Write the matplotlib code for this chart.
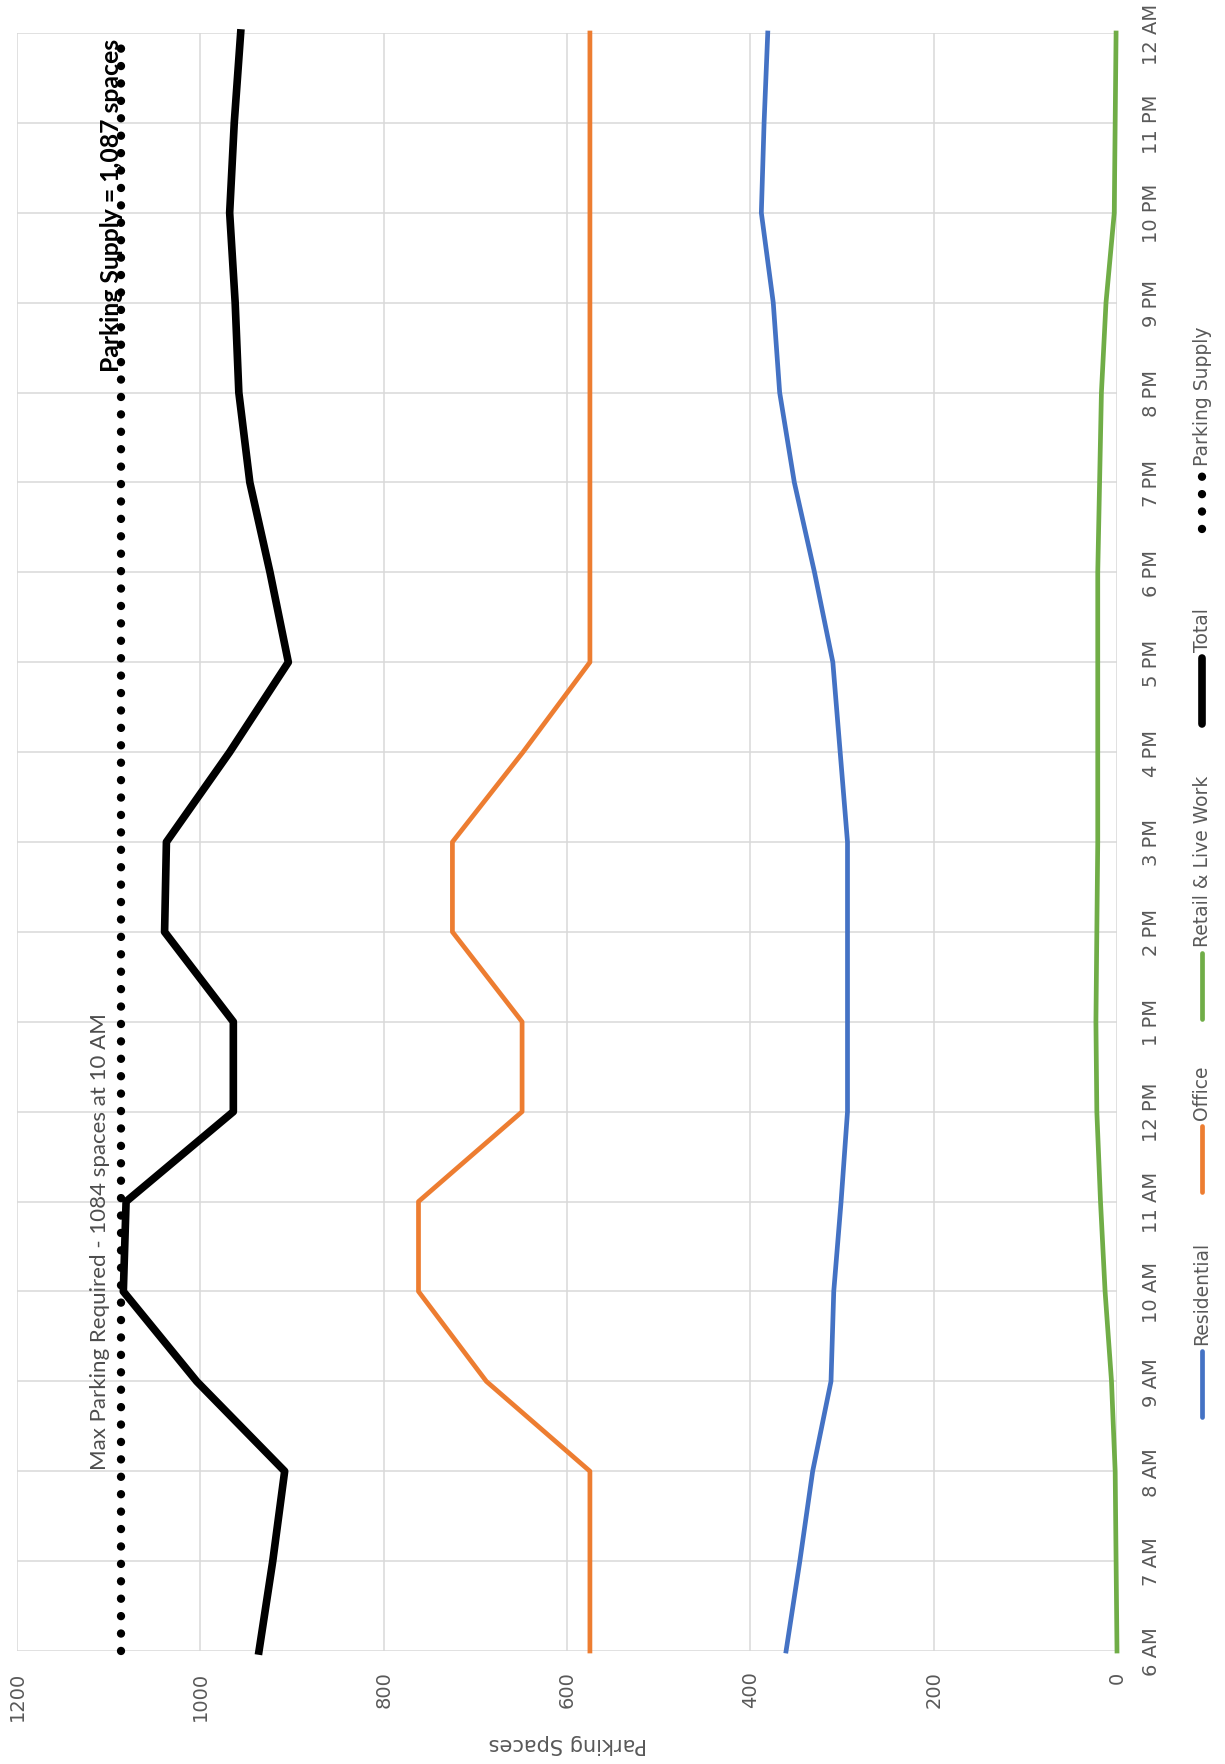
import matplotlib
matplotlib.use("Agg")
import matplotlib.pyplot as plt
from matplotlib.lines import Line2D

# Hourly parking demand by land use, 6 AM through midnight
hours = ["6 AM", "7 AM", "8 AM", "9 AM", "10 AM", "11 AM", "12 PM", "1 PM", "2 PM",
         "3 PM", "4 PM", "5 PM", "6 PM", "7 PM", "8 PM", "9 PM", "10 PM", "11 PM", "12 AM"]
residential = [361, 346, 332, 312, 309, 301, 294, 294, 294, 294, 302, 310, 330, 352, 368, 375, 388, 385, 381]
office = [575, 575, 575, 688, 762, 762, 649, 649, 725, 725, 648, 575, 575, 575, 575, 575, 575, 575, 575]
retail = [0, 1, 2, 6, 13, 18, 22, 23, 22, 21, 21, 21, 21, 19, 17, 12, 3, 2, 1]
total = [936, 921, 908, 1004, 1084, 1081, 964, 964, 1039, 1037, 968, 904, 924, 946, 958, 962, 968, 963, 956]
supply = 1087
value_ticks = [0, 200, 400, 600, 800, 1000, 1200]

W, H = 1225, 1765
GRAY = "#595959"
GRID = "#d9d9d9"
colors = {"Residential": "#4472C4", "Office": "#ED7D31",
          "Retail & Live Work": "#70AD47", "Total": "#000000"}

fig = plt.figure(figsize=(W / 100, H / 100), dpi=100)


def fx(px):
    return px / W


def fy(py):
    return 1 - py / H


# plot area turned on its side: time runs upward, spaces run right-to-left
ax = fig.add_axes([fx(17), fy(1652), fx(1117) - fx(17), fy(34) - fy(1652)])
t = list(range(len(hours)))

ax.plot(residential, t, color=colors["Residential"], lw=3.4, clip_on=False, zorder=3)
ax.plot(office, t, color=colors["Office"], lw=3.4, clip_on=False, zorder=3)
ax.plot(retail, t, color=colors["Retail & Live Work"], lw=3.4, clip_on=False, zorder=3)
ax.plot(total, t, color=colors["Total"], lw=5.5, clip_on=False, zorder=4)
dot_style = dict(color="black", lw=6, linestyle=(0, (0.01, 2.08)),
                 dash_capstyle="round")
ax.plot([supply] * len(t), t, clip_on=False, zorder=5, **dot_style)

ax.set_xlim(1200, 0)
ax.set_ylim(0, len(hours) - 1)
ax.set_xticks(value_ticks)
ax.set_xticklabels([str(v) for v in value_ticks], rotation=90, ha="center", va="top")
ax.set_yticks(t)
ax.set_yticklabels(hours, rotation=90, ha="left", va="center")
ax.yaxis.tick_right()
ax.tick_params(axis="x", length=0, pad=14, labelsize=14, labelcolor=GRAY)
ax.tick_params(axis="y", length=0, pad=18, labelsize=14, labelcolor=GRAY)
ax.grid(True, color=GRID, lw=1.1)
ax.set_axisbelow(True)
for s in ax.spines.values():
    s.set_visible(False)

fig.text(fx(568), fy(1744), "Parking Spaces", rotation=180, ha="center", va="center",
         fontsize=15, color=GRAY)

# annotations along the supply line
ax.text(1098, 2.02, "Max Parking Required - 1084 spaces at 10 AM", rotation=90,
        ha="right", va="bottom", fontsize=16, color="#4d4d4d", family="Lato", zorder=6)
ax.text(1084, 17.95, "Parking Supply = 1,087 spaces", rotation=90, ha="right", va="top",
        fontsize=17.8, fontweight="bold", color="black", family="Lato", zorder=6)

# legend drawn as a vertical column to follow the rotated layout
LX = 1202
legend_items = [
    ("Residential", colors["Residential"], 1418),
    ("Office", colors["Office"], 1193),
    ("Retail & Live Work", colors["Retail & Live Work"], 1020),
    ("Total", colors["Total"], 725),
]
for name, col, bottom in legend_items:
    lw = 5.5 if name == "Total" else 3.4
    fig.add_artist(Line2D([fx(LX), fx(LX)], [fy(bottom), fy(bottom - 66)],
                          transform=fig.transFigure, color=col, lw=lw,
                          solid_capstyle="round"))
    fig.text(fx(LX), fy(bottom - 73), name, rotation=90, ha="center", va="bottom",
             fontsize=13.5, color=GRAY)

fig.add_artist(Line2D([fx(LX), fx(LX)], [fy(530), fy(476)], transform=fig.transFigure,
                      **dot_style))
fig.text(fx(LX), fy(466), "Parking Supply", rotation=90, ha="center", va="bottom",
         fontsize=13.5, color=GRAY)

fig.savefig("out.png", dpi=100)
